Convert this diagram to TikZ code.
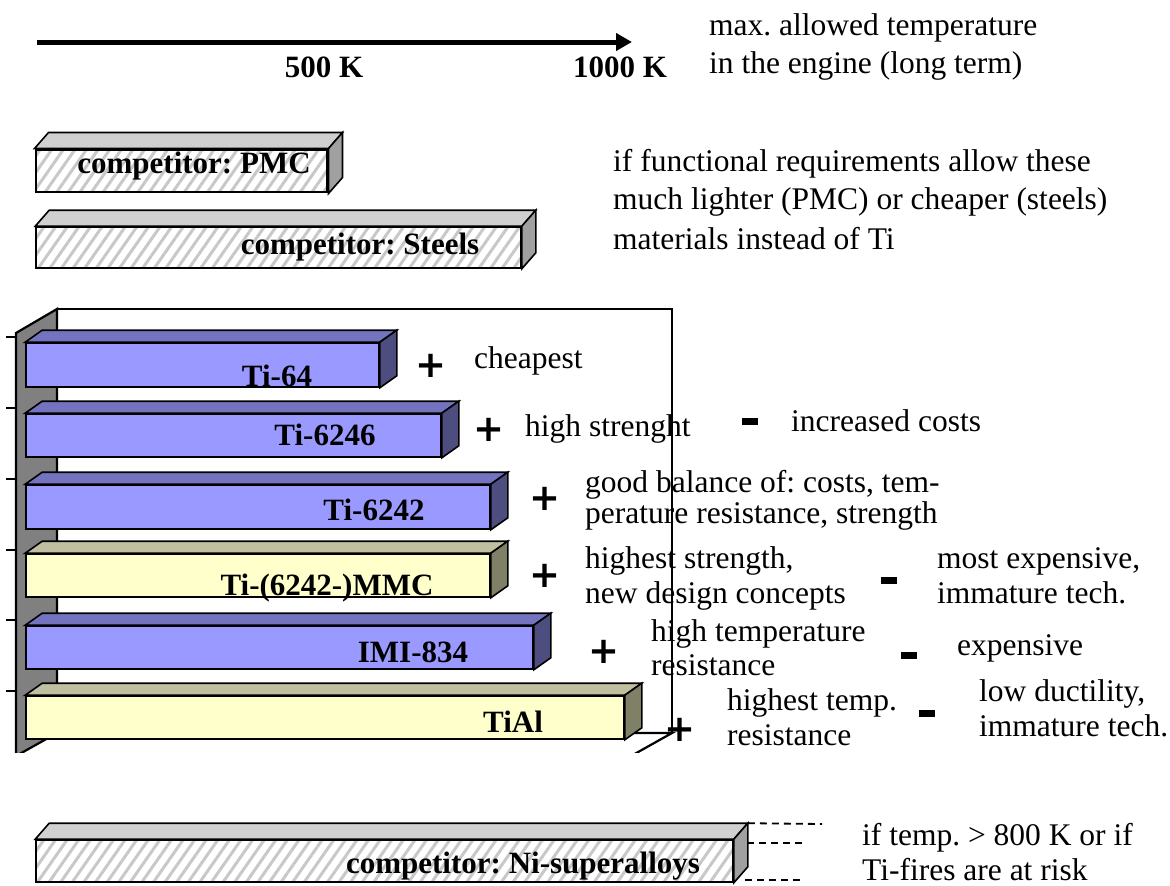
\documentclass[tikz,border=0pt]{standalone}
\usepackage{fontspec}
\setmainfont{Liberation Serif}
\newfontfamily\signfont{DejaVu Sans}
\usetikzlibrary{arrows.meta,patterns.meta}

\definecolor{tiblue}{HTML}{9999FF}
\definecolor{tibluetop}{HTML}{7373C0}
\definecolor{tiblueside}{HTML}{4D4D80}
\definecolor{tiyel}{HTML}{FFFFCC}
\definecolor{tiyeltop}{HTML}{C0C0A0}
\definecolor{tiyelside}{HTML}{808066}
\definecolor{comptop}{HTML}{D0D0D0}
\definecolor{compside}{HTML}{A0A0A0}
\definecolor{comphatch}{HTML}{C8C8C8}
\definecolor{wallgray}{HTML}{808080}

\tikzset{
  face/.style={draw=black, line width=1.6pt, line join=miter},
  blue front/.style={face, fill=tiblue},
  blue top/.style={face, fill=tibluetop},
  blue side/.style={face, fill=tiblueside},
  yellow front/.style={face, fill=tiyel},
  yellow top/.style={face, fill=tiyeltop},
  yellow side/.style={face, fill=tiyelside},
  comp front/.style={face, pattern={Lines[angle=55,distance=9.5pt,line width=3pt]}, pattern color=comphatch},
  comp top/.style={face, fill=comptop},
  comp side/.style={face, fill=compside},
  txt/.style={font=\fontsize{31.5}{36}\selectfont, inner sep=0pt, anchor=base west},
  lbl/.style={font=\fontsize{31}{34}\selectfont\bfseries, inner sep=0pt, anchor=base},
  plus/.style={font=\signfont\bfseries\fontsize{37}{37}\selectfont, inner sep=0pt},
  minus/.style={fill=black, minimum width=16pt, minimum height=7pt, inner sep=0pt},
  frame/.style={line width=2.2pt},
  hint/.style={line width=1.8pt, dash pattern=on 7pt off 5pt},
}

% 3D bar: #1 name, #2 kind, #3 left x, #4 right x, #5 top y, #6 bottom y, #7 depth dx, #8 depth dy
\newcommand{\solidbar}[8]{%
  \node[#2 front, minimum width={(#4-#3)*1pt}, minimum height={(#6-#5)*1pt}, inner sep=0pt]
    (#1) at ({(#3+#4)/2},{(#5+#6)/2}) {};
  \draw[#2 top] (#1.north west) -- ++(#7,-#8) -- ([shift={(#7,-#8)}]#1.north east)
    -- (#1.north east) -- cycle;
  \draw[#2 side] (#1.north east) -- ([shift={(#7,-#8)}]#1.north east)
    -- ([shift={(#7,-#8)}]#1.south east) -- (#1.south east) -- cycle;
}

\begin{document}
\frenchspacing
\begin{tikzpicture}[x=1pt, y=-1pt]
\useasboundingbox (0,0) rectangle (1170,886);

% temperature axis
\coordinate (axisS) at (37,42);
\coordinate (axisE) at (632,42);
\draw[line width=5pt, -{Triangle[length=16pt,width=17pt]}] (axisS) -- (axisE);
\node[lbl] (k500) at (324,77) {500 K};
\node[lbl] (k1000) at (620,77) {1000 K};
\node[txt] (maxA) at (709,35) {max. allowed temperature};
\node[txt] (maxB) at (709,73) {in the engine (long term)};

% light / cheap competitors
\solidbar{pmc}{comp}{36}{327}{150}{192}{14}{16}
\node[lbl] (pmcL) at (194,173) {competitor: PMC};
\solidbar{steel}{comp}{36}{521}{227}{268}{14}{16}
\node[lbl] (steelL) at (360,254) {competitor: Steels};
\node[txt] (ifA) at (613,171) {if functional requirements allow these};
\node[txt] (ifB) at (613,209) {much lighter (PMC) or cheaper (steels)};
\node[txt] (ifC) at (613,249) {materials instead of Ti};

% titanium alloys chart
\begin{scope}
  \clip (0,290) rectangle (1170,752);
  \coordinate (bwTL) at (57,309);
  \coordinate (bwTR) at (672,309);
  \coordinate (bwBR) at (672,733);
  \coordinate (bwBL) at (57,733);
  \coordinate (wallTF) at (16,333);
  \coordinate (wallBF) at (16,756);
  \draw[frame] (bwTL) -- (bwTR) -- (bwBR);
  \draw[frame] (bwBL) -- (bwBR) -- ++(-41,23);
  \draw[frame, fill=wallgray] (wallTF) -- (bwTL) -- (bwBL) -- (wallBF) -- cycle;
  \foreach \ty in {337,408,479,550,620,691}
    \draw[frame] (6,\ty) -- (16,\ty);
  \solidbar{ti64}{blue}{26}{379}{343}{387}{17}{12}
  \solidbar{ti6246}{blue}{26}{441}{414}{457}{17}{12}
  \solidbar{ti6242}{blue}{26}{490}{485}{529}{17}{12}
  \solidbar{mmc}{yellow}{26}{490}{554}{597}{17}{12}
  \solidbar{imi}{blue}{26}{533}{626}{669}{17}{12}
  \solidbar{tial}{yellow}{26}{624}{696}{739}{17}{12}
\end{scope}
\node[lbl] (ti64L) at (277,386) {Ti-64};
\node[lbl] (ti6246L) at (325,445) {Ti-6246};
\node[lbl] (ti6242L) at (374,520) {Ti-6242};
\node[lbl] (mmcL) at (327,595) {Ti-(6242-)MMC};
\node[lbl] (imiL) at (413,662) {IMI-834};
\node[lbl] (tialL) at (513,732) {TiAl};

% pros and cons
\node[plus] (p1) at (431,366) {+};
\node[txt] (c1) at (474,368) {cheapest};
\node[plus] (p2) at (489,430) {+};
\node[txt] (c2) at (525,436) {high strenght};
\node[minus] (m2) at (750,421) {};
\node[txt] (d2) at (791,431) {increased costs};
\node[plus] (p3) at (545,499) {+};
\node[txt] (c3a) at (585,492) {good balance of: costs, tem-};
\node[txt] (c3b) at (585,523) {perature resistance, strength};
\node[plus] (p4) at (545,576) {+};
\node[txt] (c4a) at (585,568) {highest strength,};
\node[txt] (c4b) at (585,603) {new design concepts};
\node[minus] (m4) at (889,580) {};
\node[txt] (d4a) at (937,568) {most expensive,};
\node[txt] (d4b) at (937,603) {immature tech.};
\node[plus] (p5) at (604,652) {+};
\node[txt] (c5a) at (651,641) {high temperature};
\node[txt] (c5b) at (651,675) {resistance};
\node[minus] (m5) at (909,655) {};
\node[txt] (d5) at (957,655) {expensive};
\node[plus] (p6) at (680,730) {+};
\node[txt] (c6a) at (727,710) {highest temp.};
\node[txt] (c6b) at (727,745) {resistance};
\node[minus] (m6) at (927,713) {};
\node[txt] (d6a) at (979,701) {low ductility,};
\node[txt] (d6b) at (979,736) {immature tech.};

% high temperature competitor
\solidbar{ni}{comp}{36}{733}{840}{882}{14}{16}
\node[lbl] (niL) at (523,873) {competitor: Ni-superalloys};
\coordinate (niA) at ([shift={(14,-16)}]ni.north east);
\coordinate (niB) at (747,843);
\coordinate (niC) at (745,880);
\coordinate (niAe) at (822,824);
\coordinate (niBe) at (802,843);
\coordinate (niCe) at (802,880);
\draw[hint] (niA) -- (niAe);
\draw[hint] (niB) -- (niBe);
\draw[hint] (niC) -- (niCe);
\node[txt] (niA1) at (862,845) {if temp. > 800 K or if};
\node[txt] (niA2) at (862,880) {Ti-fires are at risk};
\end{tikzpicture}
\end{document}
